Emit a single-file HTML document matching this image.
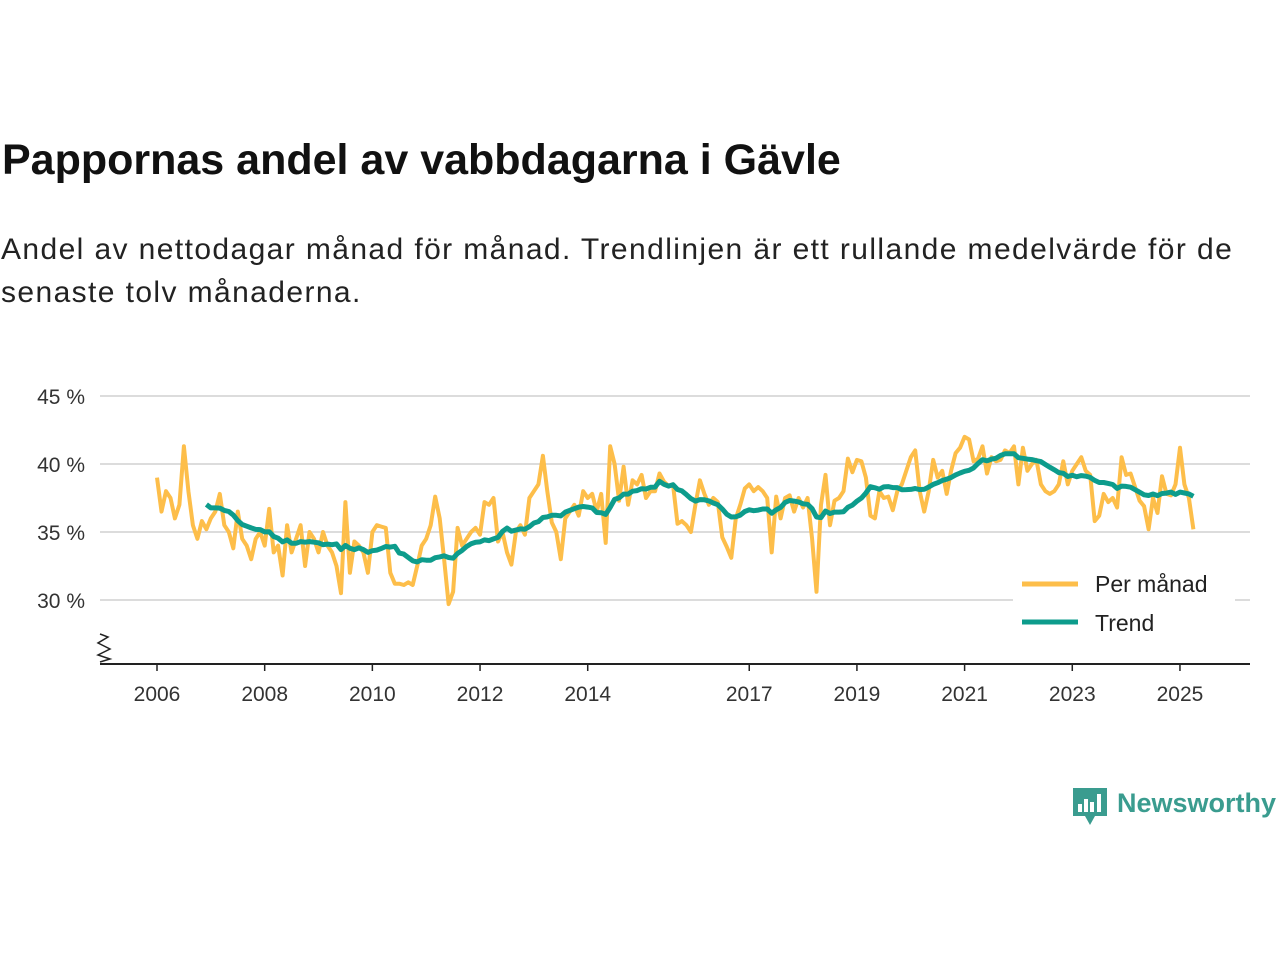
<!DOCTYPE html>
<html><head><meta charset="utf-8"><style>
body{margin:0;background:#fff;width:1280px;height:960px;overflow:hidden;font-family:"Liberation Sans",sans-serif;}
#title{position:absolute;left:2px;top:136px;font-size:43px;font-weight:bold;color:#111;margin:0}
#sub{position:absolute;left:1px;top:228px;font-size:30px;letter-spacing:1.4px;line-height:43px;color:#222;width:1270px}
svg{position:absolute;left:0;top:0}
</style></head><body>
<h1 id="title">Pappornas andel av vabbdagarna i Gävle</h1>
<div id="sub">Andel av nettodagar månad för månad. Trendlinjen är ett rullande medelvärde för de senaste tolv månaderna.</div>
<svg id="chart" width="1280" height="960"></svg>
<script>
const yTicks=[30,35,40,45];
const xTickYears=[2006,2008,2010,2012,2014,2017,2019,2021,2023,2025];
const startYear=2006;
const monthly=[
39,36.5,38,37.5,36,37,41.3,38,35.5,34.5,35.8,35.2,
36,36.5,37.8,35.5,35,33.8,36.5,34.5,34,33,34.5,35,
34,36.7,33.5,34,31.8,35.5,33.5,34.5,35.5,32.5,35,34.5,
33.5,35,34,33.5,32.5,30.5,37.2,32,34.3,34,33.5,32,
35,35.5,35.4,35.3,32,31.2,31.2,31.1,31.3,31.1,32.5,34,
34.5,35.5,37.6,36,33,29.7,30.6,35.3,34,34.5,35,35.3,
34.8,37.2,37,37.5,34.3,35,33.5,32.6,35,35.5,34.8,37.5,
38,38.5,40.6,38,35.7,35,33,36,36.5,37,36.2,38,
37.5,37.8,36.5,37.8,34.2,41.3,40,37.3,39.8,37,38.8,38.5,
39.2,37.5,38,38,39.3,38.7,38.4,38.5,35.6,35.8,35.5,35,
37,38.8,37.8,37,37.5,37.2,34.6,33.9,33.1,36,37,38.2,
38.5,38,38.3,38,37.5,33.5,37.6,36,37.5,37.7,36.5,37.5,
36.8,37.5,34.5,30.6,37,39.2,35.5,37.3,37.5,38,40.4,39.4,
40.3,40.2,39,36.2,36,38,37.5,37.6,36.6,38,38.5,39.5,
40.5,41,38,36.5,38,40.3,39,39.5,37.8,39.5,40.8,41.2,
42,41.8,40.2,40.4,41.3,39.3,40.5,40.2,40.3,41,40.8,41.3,
38.5,41.2,39.5,40,40.3,38.5,38,37.8,38,38.5,40.2,38.5,
39.5,40,40.5,39.5,39.2,35.8,36.2,37.8,37.2,37.5,36.8,40.5,
39.2,39.3,38.3,37.3,36.9,35.2,37.5,36.4,39.1,37.8,37.7,38.5,
41.2,38.5,37.5,35.2];
const trend=monthly.map((v,i)=>i<11?null:monthly.slice(i-11,i+1).reduce((a,b)=>a+b,0)/12);

const NS='http://www.w3.org/2000/svg';
const svg=document.getElementById('chart');
const x=t=>157+(t-startYear)*53.84;
const y=v=>600-(v-30)*13.6;
const xm=i=>x(startYear+i/12);
function el(tag,attrs,parent){const e=document.createElementNS(NS,tag);for(const k in attrs)e.setAttribute(k,attrs[k]);(parent||svg).appendChild(e);return e;}

yTicks.forEach(t=>{
  const g=el('line',{x1:100,x2:1250,y1:y(t),y2:y(t),stroke:'#dcdcdc','stroke-width':2});
  
  
  const tx=el('text',{x:85,y:y(t)+8,'text-anchor':'end','font-size':21,fill:'#333','font-family':'Liberation Sans, sans-serif'});
  tx.textContent=t+' %';
  
  
});
const ax=el('line',{x1:100,x2:1250,y1:664,y2:664,stroke:'#222','stroke-width':2});


const br=el('polyline',{points:'100,634 108,637 98,643 110,649 98,655 110,659 100,662',fill:'none',stroke:'#222','stroke-width':1.5});


xTickYears.forEach(t=>{
  const tk=el('line',{x1:x(t),x2:x(t),y1:664,y2:671,stroke:'#222','stroke-width':1.5});
  
  
  const tx=el('text',{x:x(t),y:701,'text-anchor':'middle','font-size':21,fill:'#333','font-family':'Liberation Sans, sans-serif'});
  tx.textContent=t;
  
  
});
const mp=el('polyline',{points:monthly.map((v,i)=>xm(i).toFixed(1)+','+y(v).toFixed(1)).join(' '),fill:'none',stroke:'#fdbe4a','stroke-width':4,'stroke-linejoin':'round'});


const tp=el('polyline',{points:trend.map((v,i)=>v==null?null:xm(i).toFixed(1)+','+y(v).toFixed(1)).filter(Boolean).join(' '),fill:'none',stroke:'#0d9c8c','stroke-width':5,'stroke-linejoin':'round'});



const lg=el('g',{});


el('rect',{x:1013,y:566,width:222,height:78,fill:'#fff'},lg);
el('line',{x1:1022,x2:1078,y1:584,y2:584,stroke:'#fdbe4a','stroke-width':5},lg);
el('line',{x1:1022,x2:1078,y1:622,y2:622,stroke:'#0d9c8c','stroke-width':5},lg);
const l1=el('text',{x:1095,y:592,'font-size':23,fill:'#222'},lg);l1.textContent='Per månad';


const l2=el('text',{x:1095,y:631,'font-size':23,fill:'#222'},lg);l2.textContent='Trend';



const logo=el('g',{});


el('path',{d:'M1073,788 h34 v28 h-12 l-5,9 l-5,-9 h-12 z',fill:'#3a9c8f'},logo);
[[1078,804,4,8],[1084,799,4,13],[1090,802,4,10],[1097,794,4,18]].forEach(r=>el('rect',{x:r[0],y:r[1],width:r[2],height:r[3],fill:'#fff'},logo));
const lt=el('text',{x:1117,y:812,'font-size':27,'font-weight':'bold',fill:'#3a9c8f'},logo);lt.textContent='Newsworthy';
</script>
</body></html>
